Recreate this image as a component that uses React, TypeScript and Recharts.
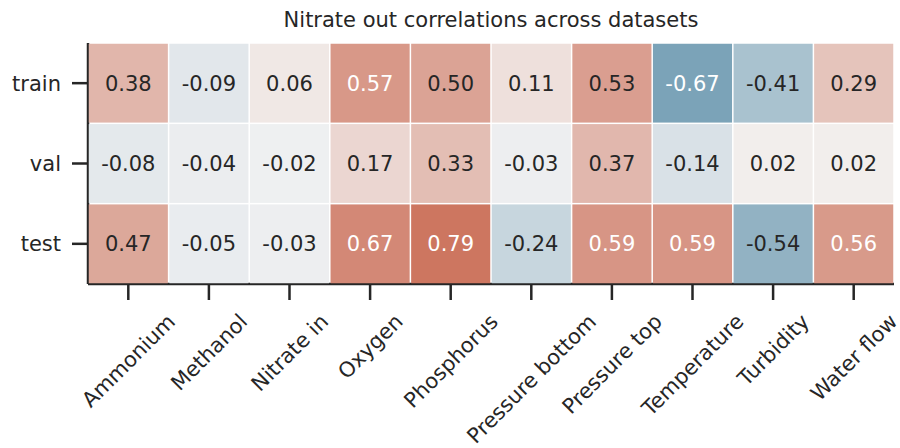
import { ScatterChart, Scatter, XAxis, YAxis } from "recharts";

const features = [
  "Ammonium",
  "Methanol",
  "Nitrate in",
  "Oxygen",
  "Phosphorus",
  "Pressure bottom",
  "Pressure top",
  "Temperature",
  "Turbidity",
  "Water flow",
];
const datasets = ["train", "val", "test"];

const trainCorr = [0.38, -0.09, 0.06, 0.57, 0.5, 0.11, 0.53, -0.67, -0.41, 0.29];
const valCorr = [-0.08, -0.04, -0.02, 0.17, 0.33, -0.03, 0.37, -0.14, 0.02, 0.02];
const testCorr = [0.47, -0.05, -0.03, 0.67, 0.79, -0.24, 0.59, 0.59, -0.54, 0.56];

const seriesByRow = [trainCorr, valCorr, testCorr];

const cells = seriesByRow.flatMap((vals, row) =>
  vals.map((v, col) => ({ x: col, y: row, v }))
);

const W = 900;
const H = 448;
const LEFT = 88;
const RIGHT = 6;
const TOP = 43;
const BOTTOM = 164;
const FONT = '"DejaVu Sans", sans-serif';
const FS = 21;
const INK = "#262626";

const cellW = (W - LEFT - RIGHT) / features.length;
const cellH = (H - TOP - BOTTOM) / datasets.length;

// seaborn diverging_palette(220, 20), approximated linearly in rgb
const NEG = [64, 124, 155];
const MID_NEG = [242, 242, 243];
const MID_POS = [243, 241, 240];
const POS = [195, 85, 58];

function colorFor(v: number) {
  const end = v < 0 ? NEG : POS;
  const mid = v < 0 ? MID_NEG : MID_POS;
  const t = Math.min(1, Math.abs(v));
  return mid.map((m, i) => Math.round(m + (end[i] - m) * t));
}

function luminance(rgb: number[]) {
  const lin = rgb.map((c) => {
    const s = c / 255;
    return s <= 0.03928 ? s / 12.92 : Math.pow((s + 0.055) / 1.055, 2.4);
  });
  return 0.2126 * lin[0] + 0.7152 * lin[1] + 0.0722 * lin[2];
}

let ctx: CanvasRenderingContext2D | null = null;
function textWidth(s: string) {
  if (!ctx) ctx = document.createElement("canvas").getContext("2d");
  if (!ctx) return s.length * FS * 0.6;
  ctx.font = `${FS}px "DejaVu Sans"`;
  return ctx.measureText(s).width;
}

const HeatCell = (props: any) => {
  const { cx, cy, payload } = props;
  const rgb = colorFor(payload.v);
  const txt = luminance(rgb) > 0.408 ? INK : "#ffffff";
  return (
    <g>
      <rect
        x={cx - cellW / 2 + 0.75}
        y={cy - cellH / 2 + 0.75}
        width={cellW - 1.5}
        height={cellH - 1.5}
        fill={`rgb(${rgb.join(",")})`}
      />
      <text
        x={cx}
        y={cy}
        dy="0.36em"
        textAnchor="middle"
        fontSize={FS}
        fontFamily={FONT}
        fill={txt}
      >
        {payload.v.toFixed(2)}
      </text>
    </g>
  );
};

const XTick = (props: any) => {
  const { x, y, payload } = props;
  const label = features[payload.value];
  const w = textWidth(label);
  const half = (w + FS * 0.75) / (2 * Math.SQRT2);
  const cy = y + half;
  return (
    <text
      x={x}
      y={cy}
      dy="0.36em"
      textAnchor="middle"
      fontSize={FS}
      fontFamily={FONT}
      fill={INK}
      transform={`rotate(-45 ${x} ${cy})`}
    >
      {label}
    </text>
  );
};

const YTick = (props: any) => {
  const { x, y, payload } = props;
  return (
    <text
      x={x}
      y={y}
      dy="0.36em"
      textAnchor="end"
      fontSize={FS}
      fontFamily={FONT}
      fill={INK}
    >
      {datasets[payload.value]}
    </text>
  );
};

export default function App() {
  return (
    <div
      style={{
        position: "absolute",
        left: 0,
        top: 0,
        width: W,
        height: H,
        background: "#fff",
        fontFamily: FONT,
      }}
    >
      <div
        style={{
          position: "absolute",
          left: LEFT,
          width: W - LEFT - RIGHT,
          top: 10,
          textAlign: "center",
          fontSize: FS,
          lineHeight: `${FS}px`,
          color: INK,
        }}
      >
        Nitrate out correlations across datasets
      </div>
      <ScatterChart
        width={W}
        height={H}
        margin={{ top: TOP, right: RIGHT, bottom: 0, left: 0 }}
      >
        <XAxis
          type="number"
          dataKey="x"
          domain={[-0.5, features.length - 0.5]}
          ticks={features.map((_, i) => i)}
          interval={0}
          height={BOTTOM}
          tickSize={16}
          tickMargin={12}
          axisLine={{ stroke: INK, strokeWidth: 2.5 }}
          tickLine={{ stroke: INK, strokeWidth: 2.5 }}
          tick={<XTick />}
        />
        <YAxis
          type="number"
          dataKey="y"
          reversed
          domain={[-0.5, datasets.length - 0.5]}
          ticks={datasets.map((_, i) => i)}
          interval={0}
          width={LEFT}
          tickSize={16}
          tickMargin={11}
          axisLine={{ stroke: INK, strokeWidth: 2.5 }}
          tickLine={{ stroke: INK, strokeWidth: 2.5 }}
          tick={<YTick />}
        />
        <Scatter data={cells} shape={HeatCell} isAnimationActive={false} />
      </ScatterChart>
    </div>
  );
}
